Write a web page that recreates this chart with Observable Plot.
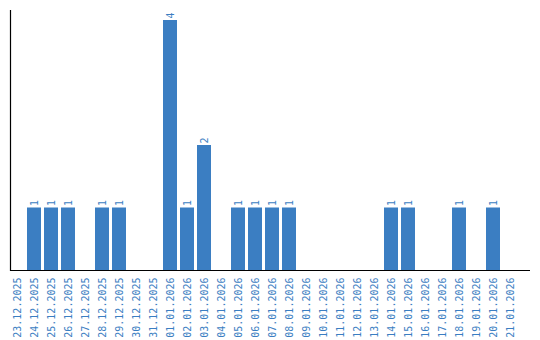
<!DOCTYPE html>
<html>
<head>
<meta charset="utf-8">
<script src="https://cdn.jsdelivr.net/npm/d3@7"></script>
<script src="https://cdn.jsdelivr.net/npm/@observablehq/plot@0.6"></script>
<style>
  html, body { margin: 0; padding: 0; background: #fff; }
</style>
</head>
<body>
<div id="chart"></div>
<script>
const dates = [
  "23.12.2025","24.12.2025","25.12.2025","26.12.2025","27.12.2025","28.12.2025",
  "29.12.2025","30.12.2025","31.12.2025","01.01.2026","02.01.2026","03.01.2026",
  "04.01.2026","05.01.2026","06.01.2026","07.01.2026","08.01.2026","09.01.2026",
  "10.01.2026","11.01.2026","12.01.2026","13.01.2026","14.01.2026","15.01.2026",
  "16.01.2026","17.01.2026","18.01.2026","19.01.2026","20.01.2026","21.01.2026"
];
const counts = [0,1,1,1,0,1,1,0,0,4,1,2,0,1,1,1,1,0,0,0,0,0,1,1,0,0,1,0,1,0];

const data = dates.map((d, i) => ({date: d, count: counts[i]}));
const nonzero = data.filter(d => d.count > 0);
const blue = "#3b7ec2";

const chart = Plot.plot({
  width: 540,
  height: 340,
  marginTop: 10,
  marginLeft: 10,
  marginRight: 10,
  marginBottom: 70,
  style: {fontFamily: "DejaVu Sans Mono", fontSize: "10px", background: "#fff"},
  x: {domain: dates, range: [10, 517], paddingInner: 3/17, paddingOuter: 0, label: null},
  y: {domain: [0, 4.16], axis: null},
  marks: [
    Plot.barY(nonzero, {x: "date", y: "count", fill: blue}),
    Plot.text(nonzero, {x: "date", y: "count", text: d => String(d.count), rotate: -90,
      textAnchor: "start", lineAnchor: "middle", dy: -2, fill: blue, fontSize: 10}),
    Plot.axisX({tickRotate: -90, tickSize: 0, tickPadding: 7, fill: blue, label: null, fontSize: 10}),
    Plot.ruleY([0], {stroke: "#000", strokeWidth: 1.2}),
    Plot.frame({anchor: "left", stroke: "#000", strokeWidth: 1.2})
  ]
});
document.getElementById("chart").appendChild(chart);
</script>
</body>
</html>
